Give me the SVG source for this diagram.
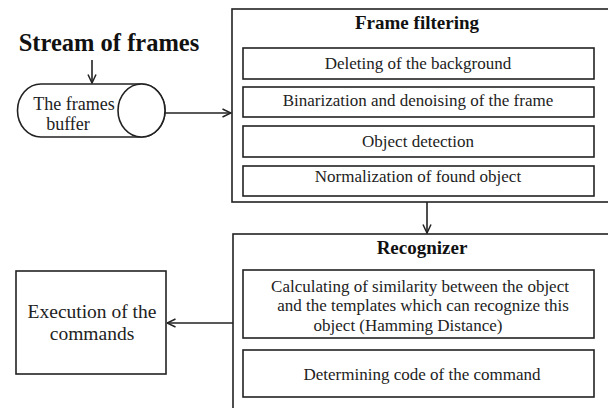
<svg xmlns="http://www.w3.org/2000/svg" width="608" height="408" viewBox="0 0 608 408">
<defs>
<marker id="arr" viewBox="0 0 10 10" refX="9.5" refY="5" markerWidth="10" markerHeight="10" markerUnits="userSpaceOnUse" orient="auto">
<path d="M1,1 L9.5,5 L1,9" fill="none" stroke="#222" stroke-width="1.5"/>
</marker>
<style>
.box{fill:#fff;stroke:#222;stroke-width:1.6}
.ln{fill:none;stroke:#222;stroke-width:1.6}
text{font-family:'Liberation Serif','DejaVu Serif',serif}
.t{font-size:17px;fill:#222;text-anchor:middle}
.h{font-size:19px;font-weight:bold;fill:#111;text-anchor:middle}
</style>
</defs>
<rect width="608" height="408" fill="#fff"/>
<g id="connectors">
<path class="ln" d="M92,60 V83" marker-end="url(#arr)"/>
<path class="ln" d="M165,113 H231" marker-end="url(#arr)"/>
<path class="ln" d="M427,202 V233" marker-end="url(#arr)"/>
<path class="ln" d="M233,323 H167" marker-end="url(#arr)"/>
</g>
<g id="stream">
<text x="109" y="51" class="h" style="font-size:24.5px">Stream of frames</text>
</g>
<g id="buffer">
<path class="box" d="M41,84 H141.5 A23.5,26.5 0 0 1 141.5,137 H41 A23.5,26.5 0 0 1 41,84 Z"/>
<ellipse class="box" cx="141.5" cy="110.5" rx="23.5" ry="26.5"/>
<text x="74" y="110" class="t" style="font-size:18px">The frames</text>
<text x="68" y="130" class="t" style="font-size:18px">buffer</text>
</g>
<g id="frame-filtering">
<rect class="box" x="232" y="9" width="390" height="193"/>
<text x="417" y="29" class="h">Frame filtering</text>
<g id="ff1"><rect class="box" x="243" y="48" width="351" height="31"/><text x="418" y="69" class="t">Deleting of the background</text></g>
<g id="ff2"><rect class="box" x="243" y="87" width="351" height="30"/><text x="418" y="106" class="t">Binarization and denoising of the frame</text></g>
<g id="ff3"><rect class="box" x="243" y="126" width="351" height="31"/><text x="418" y="147" class="t">Object detection</text></g>
<g id="ff4"><rect class="box" x="243" y="166" width="351" height="30"/><text x="418" y="182" class="t">Normalization of found object</text></g>
</g>
<g id="recognizer">
<rect class="box" x="233" y="234" width="390" height="190"/>
<text x="422" y="254" class="h">Recognizer</text>
<g id="rc1"><rect class="box" x="243" y="270" width="351" height="68"/>
<text x="420" y="292" class="t">Calculating of similarity between the object</text>
<text x="423" y="311" class="t">and the templates which can recognize this</text>
<text x="408" y="331" class="t">object (Hamming Distance)</text></g>
<g id="rc2"><rect class="box" x="243" y="350" width="351" height="47"/><text x="422" y="380" class="t">Determining code of the command</text></g>
</g>
<g id="execution">
<rect class="box" x="16" y="271" width="150" height="103"/>
<text x="92" y="318" class="t" style="font-size:19.5px">Execution of the</text>
<text x="92" y="340" class="t" style="font-size:19.5px">commands</text>
</g>
</svg>
